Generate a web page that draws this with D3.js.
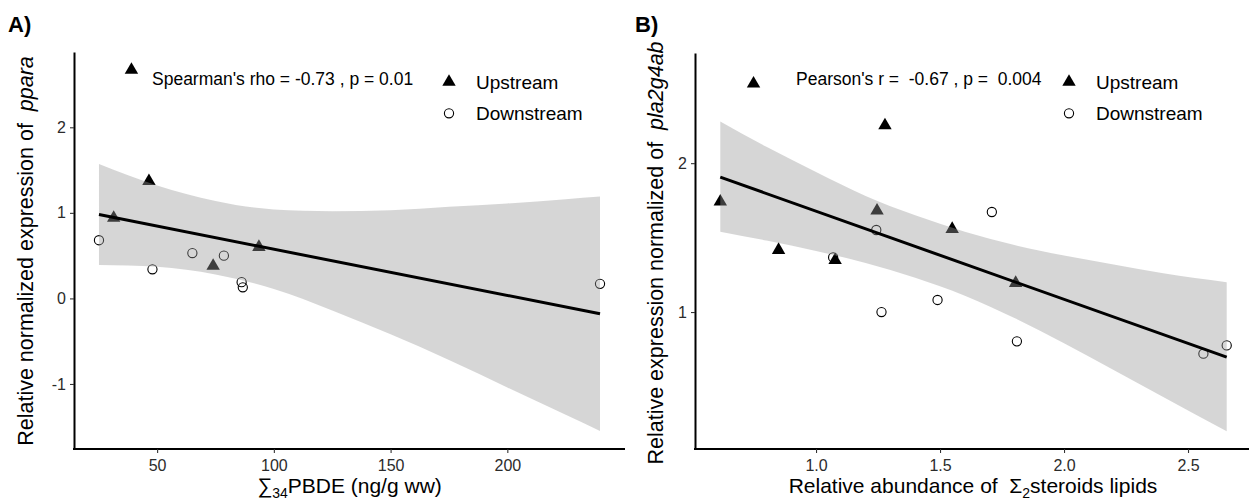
<!DOCTYPE html>
<html>
<head>
<meta charset="utf-8">
<script src="https://d3js.org/d3.v7.min.js"></script>
<style>
  body { margin: 0; background: #fff; }
  text { font-family: "Liberation Sans", Arial, sans-serif; }
</style>
</head>
<body>
<div id="my_dataviz"></div>
<script>
// ---- panel A : sum34 PBDE vs ppara ----
var upA_x = [39, 46.5, 31.4, 74, 93.6];
var upA_y = [2.67, 1.37, 0.94, 0.38, 0.60];
var downA_x = [25.1, 48, 65.1, 78.6, 86.2, 86.7, 239.7];
var downA_y = [0.68, 0.34, 0.53, 0.50, 0.19, 0.13, 0.17];
// fitted line + confidence band
var fitA_x = [25.1, 239.7];
var fitA_y = [0.98, -0.18];
var bandA_x = [25.1, 50, 75, 100, 125, 150, 175, 200, 225, 239.7];
var bandA_upper = [1.57, 1.32, 1.14, 1.04, 1.02, 1.03, 1.07, 1.11, 1.16, 1.19];
var bandA_lower = [0.39, 0.37, 0.28, 0.11, -0.14, -0.42, -0.72, -1.04, -1.36, -1.55];
var ticksA_x = [50, 100, 150, 200];
var ticksA_y = [-1, 0, 1, 2];

// ---- panel B : sum2 steroids vs pla2g4ab ----
var upB_x = [0.748, 1.278, 0.614, 1.246, 0.849, 1.077, 1.549, 1.805];
var upB_y = [2.534, 2.253, 1.741, 1.681, 1.416, 1.348, 1.557, 1.195];
var downB_x = [1.243, 1.069, 1.709, 1.264, 1.490, 1.810, 2.562, 2.656];
var downB_y = [1.551, 1.367, 1.672, 1.0, 1.081, 0.803, 0.720, 0.776];
var fitB_x = [0.614, 2.656];
var fitB_y = [1.906, 0.697];
var bandB_x = [0.614, 0.8, 1.0, 1.2, 1.4, 1.6, 1.8, 2.0, 2.2, 2.4, 2.656];
var bandB_upper = [2.28, 2.11, 1.94, 1.78, 1.65, 1.54, 1.45, 1.38, 1.32, 1.26, 1.20];
var bandB_lower = [1.54, 1.48, 1.41, 1.33, 1.23, 1.11, 0.96, 0.79, 0.61, 0.43, 0.20];
var ticksB_x = [1.0, 1.5, 2.0, 2.5];
var ticksB_y = [1, 2];

var legendLabels = ["Upstream", "Downstream"];

var width = 1249, height = 503;
var FONT = "Liberation Sans, Arial, sans-serif";

var svg = d3.select("#my_dataviz")
  .append("svg")
    .attr("width", width)
    .attr("height", height);

function zip(xs, ys) { return xs.map(function(d, i) { return [d, ys[i]]; }); }

function panel(cfg) {
  var x = d3.scaleLinear().domain(cfg.xdom).range([cfg.left, cfg.right]);
  var y = d3.scaleLinear().domain(cfg.ydom).range([cfg.bottom, cfg.top]);
  var g = svg.append("g");

  // points first, the band is drawn over them (ggplot order)
  g.selectAll("path.up")
    .data(zip(cfg.upx, cfg.upy))
    .enter().append("path")
      .attr("class", "up")
      .attr("d", d3.symbol().type(d3.symbolTriangle).size(78))
      .attr("transform", function(d) { return "translate(" + x(d[0]) + "," + y(d[1]) + ")"; })
      .attr("fill", "#000");

  g.selectAll("circle.down")
    .data(zip(cfg.downx, cfg.downy))
    .enter().append("circle")
      .attr("class", "down")
      .attr("cx", function(d) { return x(d[0]); })
      .attr("cy", function(d) { return y(d[1]); })
      .attr("r", 4.6)
      .attr("fill", "none")
      .attr("stroke", "#000")
      .attr("stroke-width", 1.1);

  // confidence band
  var band = cfg.bandx.map(function(d, i) { return {x: d, lo: cfg.bandlo[i], hi: cfg.bandhi[i]}; });
  g.append("path")
    .datum(band)
    .attr("d", d3.area()
      .curve(d3.curveMonotoneX)
      .x(function(d) { return x(d.x); })
      .y0(function(d) { return y(d.lo); })
      .y1(function(d) { return y(d.hi); }))
    .attr("fill", "#999999")
    .attr("fill-opacity", 0.4);

  // regression line
  g.append("path")
    .datum(zip(cfg.fitx, cfg.fity))
    .attr("d", d3.line().x(function(d) { return x(d[0]); }).y(function(d) { return y(d[1]); }))
    .attr("stroke", "#000")
    .attr("stroke-width", 3)
    .attr("fill", "none");

  // axes
  var gx = g.append("g")
    .attr("transform", "translate(0," + cfg.bottom + ")")
    .call(d3.axisBottom(x).tickValues(cfg.xticks).tickFormat(cfg.xfmt)
      .tickSize(4).tickSizeOuter(0).tickPadding(7));
  var gy = g.append("g")
    .attr("transform", "translate(" + cfg.left + ",0)")
    .call(d3.axisLeft(y).tickValues(cfg.yticks).tickFormat(function(d) { return String(d); })
      .tickSize(4).tickSizeOuter(0).tickPadding(4));
  [gx, gy].forEach(function(a) {
    a.attr("font-family", FONT).attr("font-size", 16);
    a.select(".domain").attr("stroke", "#000").attr("stroke-width", 2);
    a.selectAll(".tick line").attr("stroke", "#333").attr("stroke-width", 1.1);
    a.selectAll(".tick text").attr("fill", "#2b2b2b");
  });
  gx.select(".domain").attr("d", "M" + (cfg.left - 1) + ",0H" + cfg.right);

  // legend
  var lg = g.append("g");
  lg.append("path")
    .attr("d", d3.symbol().type(d3.symbolTriangle).size(78))
    .attr("transform", "translate(" + cfg.legx + ",82)")
    .attr("fill", "#000");
  lg.append("circle")
    .attr("cx", cfg.legx).attr("cy", 113.3).attr("r", 4.6)
    .attr("fill", "none").attr("stroke", "#000").attr("stroke-width", 1.1);
  lg.selectAll("text")
    .data(legendLabels)
    .enter().append("text")
      .attr("x", cfg.legx + 27)
      .attr("y", function(d, i) { return i === 0 ? 89 : 120; })
      .style("font-size", "19px")
      .text(function(d) { return d; });

  // correlation annotation
  g.append("text")
    .attr("x", cfg.annx)
    .attr("y", 85)
    .style("font-size", "17.5px")
    .style("white-space", "pre")
    .text(cfg.ann);

  // panel tag
  g.append("text")
    .attr("x", cfg.tagx)
    .attr("y", 31.5)
    .style("font-size", "22px")
    .style("font-weight", "bold")
    .text(cfg.tag);

  return g;
}

var gA = panel({
  left: 74, right: 625, top: 52, bottom: 449,
  xdom: [14.4, 250.4], ydom: [-1.76, 2.88],
  upx: upA_x, upy: upA_y, downx: downA_x, downy: downA_y,
  fitx: fitA_x, fity: fitA_y,
  bandx: bandA_x, bandhi: bandA_upper, bandlo: bandA_lower,
  xticks: ticksA_x, yticks: ticksA_y, xfmt: d3.format("d"),
  legx: 449, annx: 152, ann: "Spearman's rho = -0.73 , p = 0.01",
  tagx: 8, tag: "A)"
});

var gB = panel({
  left: 695, right: 1252, top: 53, bottom: 449,
  xdom: [0.512, 2.758], ydom: [0.08, 2.74],
  upx: upB_x, upy: upB_y, downx: downB_x, downy: downB_y,
  fitx: fitB_x, fity: fitB_y,
  bandx: bandB_x, bandhi: bandB_upper, bandlo: bandB_lower,
  xticks: ticksB_x, yticks: ticksB_y, xfmt: d3.format(".1f"),
  legx: 1069, annx: 796, ann: "Pearson's r =  -0.67 , p =  0.004",
  tagx: 635, tag: "B)"
});

// axis titles
var tA = svg.append("text")
  .attr("x", 349.5).attr("y", 493)
  .attr("text-anchor", "middle")
  .style("font-size", "21px");
tA.append("tspan").text("\u2211");
tA.append("tspan").attr("dy", 5).style("font-size", "14px").text("34");
tA.append("tspan").attr("dy", -5).text("PBDE (ng/g ww)");

var tB = svg.append("text")
  .attr("x", 973).attr("y", 493)
  .attr("text-anchor", "middle")
  .style("font-size", "21px")
  .style("white-space", "pre");
tB.append("tspan").text("Relative abundance of  \u03A3");
tB.append("tspan").attr("dy", 5).style("font-size", "14px").text("2");
tB.append("tspan").attr("dy", -5).text("steroids lipids");

// y titles centred on their panels
var yA = svg.append("text")
  .attr("transform", "translate(33,251) rotate(-90)")
  .attr("text-anchor", "middle")
  .style("font-size", "21.5px")
  .style("white-space", "pre");
yA.append("tspan").text("Relative normalized expression of  ");
yA.append("tspan").style("font-style", "italic").text("ppara");

var yB = svg.append("text")
  .attr("transform", "translate(663,253) rotate(-90)")
  .attr("text-anchor", "middle")
  .style("font-size", "21.5px")
  .style("white-space", "pre");
yB.append("tspan").text("Relative expression normalized of  ");
yB.append("tspan").style("font-style", "italic").text("pla2g4ab");
</script>
</body>
</html>
